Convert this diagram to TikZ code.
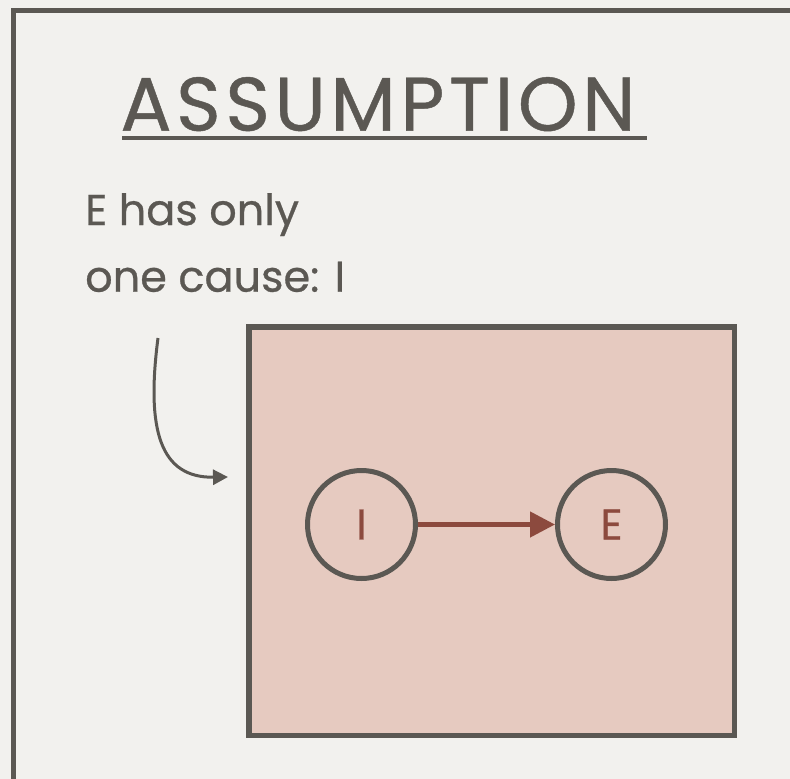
\documentclass[tikz,border=0pt]{standalone}
\usepackage{fontspec}
\setmainfont[FakeBold=0.6]{Poppins}
\newfontfamily\titlefont[LetterSpace=6,FakeBold=0.6]{Poppins}
\usetikzlibrary{arrows.meta}
\definecolor{paper}{HTML}{F2F1EE}
\definecolor{ink}{HTML}{5B5853}
\definecolor{boxfill}{HTML}{E6CAC0}
\definecolor{rust}{HTML}{8C4A3E}
\tikzset{
  body/.style={font=\fontsize{43}{50}\selectfont, text=ink, inner sep=0pt},
  varnode/.style={circle, draw=ink, line width=5pt, minimum size=108pt, inner sep=0pt,
    font=\fontsize{43}{50}\selectfont, text=rust},
}
\begin{document}
\begin{tikzpicture}[x=1pt,y=-1pt]
\useasboundingbox (0,0) rectangle (790,779);
\clip (0,0) rectangle (790,779);
\fill[paper] (0,0) rectangle (790,779);
% outer frame (open to right and bottom)
\draw[ink, line width=5.5pt] (800,10.5) -- (13.5,10.5) -- (13.5,790);
% title
\node[anchor=base, inner sep=0pt, text=ink, font=\titlefont\fontsize{76}{80}\selectfont] (title) at (378,130.7) {ASSUMPTION};
\draw[ink, line width=4.5pt] (122,138) -- (647,138);
% text
\node[body, anchor=base west] (l1) at (85,225) {E has only};
\node[body, anchor=base west] (l2) at (85,291.7) {one cause: I};
% box
\draw[draw=ink, fill=boxfill, line width=5.5pt] (249,327) rectangle (734.5,735.5);
% nodes
\node[varnode] (I) at (361.5,524.5) {I};
\node[varnode] (E) at (611.5,524.5) {E};
\draw[rust, line width=4.5pt, -{Triangle[length=25pt,width=25pt]}] (I) -- (E);
% curved pointer
\coordinate (cs) at (158,338);
\coordinate (ce) at (228,477);
\draw[ink, line width=3pt, -{Triangle[length=15pt,width=15pt]}] (cs) .. controls (146,430) and (160,478) .. (ce);
\end{tikzpicture}
\end{document}
